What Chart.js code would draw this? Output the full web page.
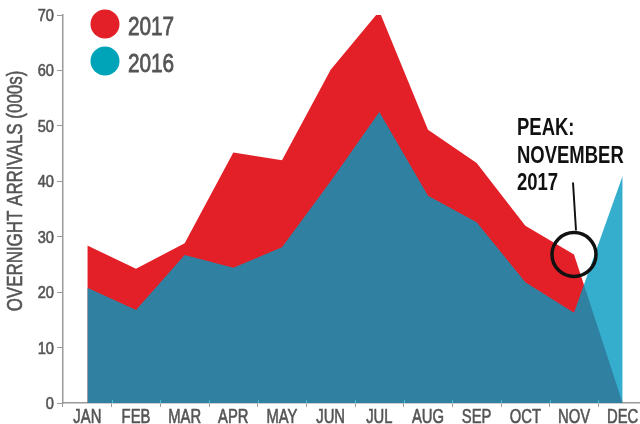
<!DOCTYPE html>
<html>
<head>
<meta charset="utf-8">
<script src="https://cdn.jsdelivr.net/npm/chart.js@4/dist/chart.umd.min.js"></script>
<style>
  html, body { margin: 0; padding: 0; background: #fff; overflow: hidden; }
  #wrap { width: 648px; height: 424px; }
</style>
</head>
<body>
<div id="wrap"><canvas id="chart" width="648" height="424"></canvas></div>
<script>
const months = ['JAN', 'FEB', 'MAR', 'APR', 'MAY', 'JUN', 'JUL', 'AUG', 'SEP', 'OCT', 'NOV', 'DEC'];
const arrivals2017 = [28.4, 24.2, 28.8, 45.2, 43.8, 60.1, 70.7, 49.3, 43.3, 32.0, 26.8, 0];
const arrivals2016 = [20.8, 16.8, 26.7, 24.4, 28.1, 40.0, 52.5, 37.4, 32.6, 21.8, 16.3, 41.0];
const yTicks = [0, 10, 20, 30, 40, 50, 60, 70];
const seriesNames = ['2017', '2016'];
const peakLines = ['PEAK:', 'NOVEMBER', '2017'];

const FONT = '"Liberation Sans", Arial, sans-serif';
const GREY = '#555555';
const AXIS = '#9a9a9a';

// no condensed font installed, so squeeze Liberation Sans sideways
function squeezeText(ctx, text, x, y, size, opts) {
  const o = Object.assign({ weight: 'normal', color: GREY, align: 'left', sx: 0.8, stroke: 0.6 }, opts);
  ctx.save();
  ctx.font = o.weight + ' ' + size + 'px ' + FONT;
  ctx.fillStyle = o.color;
  ctx.strokeStyle = o.color;
  ctx.lineWidth = o.stroke;
  ctx.textBaseline = 'alphabetic';
  ctx.textAlign = o.align;
  ctx.translate(x, y);
  ctx.scale(o.sx, 1);
  ctx.fillText(text, 0, 0);
  if (o.stroke > 0) ctx.strokeText(text, 0, 0);
  ctx.restore();
}

const extras = {
  id: 'extras',
  afterDatasetsDraw(chart) {
    const { ctx, scales } = chart;
    const x = scales.x, y = scales.y;
    ctx.save();

    // small ticks between months, crossing the x axis
    const step = x.getPixelForValue(1) - x.getPixelForValue(0);
    ctx.strokeStyle = 'rgba(80,190,215,0.9)';
    ctx.lineWidth = 1;
    for (let i = 1; i < months.length; i++) {
      const px = Math.round(x.getPixelForValue(i) - step / 2) + 0.5;
      ctx.beginPath();
      ctx.moveTo(px, y.bottom - 3);
      ctx.lineTo(px, y.bottom);
      ctx.stroke();
    }
    ctx.restore();

    // tick labels
    months.forEach((m, i) => {
      squeezeText(ctx, m, x.getPixelForValue(i), 423, 19.5, { align: 'center', sx: 0.76 });
    });
    yTicks.forEach((v) => {
      squeezeText(ctx, String(v), 54, y.getPixelForValue(v) + 6, 17, { align: 'right', sx: 0.86 });
    });

    // legend
    const colors = ['#e32027', '#00a4b9'];
    seriesNames.forEach((name, i) => {
      const cy = 24 + i * 37;
      ctx.fillStyle = colors[i];
      ctx.beginPath();
      ctx.arc(105, cy, 14.5, 0, Math.PI * 2);
      ctx.fill();
      squeezeText(ctx, name, 128, cy + 11, 25, { sx: 0.83, stroke: 0.8 });
    });

    // y axis title
    ctx.save();
    ctx.translate(22, 191);
    ctx.rotate(-Math.PI / 2);
    squeezeText(ctx, 'OVERNIGHT ARRIVALS (000s)', 0, 0, 22, { align: 'center', sx: 0.77 });
    ctx.restore();

    // peak callout on Nov 2017
    const nx = x.getPixelForValue(10);
    const ny = y.getPixelForValue(arrivals2017[10]);
    ctx.save();
    ctx.strokeStyle = '#111';
    ctx.lineWidth = 3.5;
    ctx.beginPath();
    ctx.arc(nx, ny, 22, 0, Math.PI * 2);
    ctx.stroke();
    ctx.lineWidth = 2;
    ctx.beginPath();
    ctx.moveTo(nx - 1, ny - 72);
    ctx.lineTo(nx + 2, ny - 24);
    ctx.stroke();
    ctx.restore();

    peakLines.forEach((t, i) => {
      squeezeText(ctx, t, 517, 135 + i * 27.5, 24, { weight: 'bold', color: '#111', sx: 0.77, stroke: 0 });
    });
  }
};

new Chart(document.getElementById('chart'), {
  type: 'line',
  data: {
    labels: months,
    datasets: [
      {
        label: seriesNames[1],
        data: arrivals2016,
        fill: 'origin',
        backgroundColor: 'rgba(3,154,192,0.8)',
        borderColor: 'transparent',
        borderWidth: 0,
        pointRadius: 0,
        tension: 0
      },
      {
        label: seriesNames[0],
        data: arrivals2017,
        fill: 'origin',
        backgroundColor: '#e32027',
        borderColor: 'transparent',
        borderWidth: 0,
        pointRadius: 0,
        tension: 0
      }
    ]
  },
  options: {
    responsive: false,
    animation: false,
    layout: { padding: { top: 15, right: 1, left: 0, bottom: 0 } },
    plugins: { legend: { display: false }, tooltip: { enabled: false } },
    scales: {
      x: {
        offset: true,
        afterFit: (s) => { s.height = 21; },
        border: { color: AXIS, width: 1.5 },
        grid: { offset: true, drawOnChartArea: false, tickLength: 4, color: AXIS },
        ticks: { color: 'rgba(0,0,0,0)', font: { size: 12 }, padding: 2, maxRotation: 0 }
      },
      y: {
        min: 0,
        max: 70,
        afterFit: (s) => { s.width = 63; },
        afterBuildTicks: (s) => { s.ticks = yTicks.map(v => ({ value: v })); },
        border: { color: AXIS, width: 1.5 },
        grid: { drawOnChartArea: false, tickLength: 6, color: AXIS },
        ticks: { color: 'rgba(0,0,0,0)', font: { size: 12 }, padding: 3 }
      }
    }
  },
  plugins: [extras]
});
</script>
</body>
</html>
